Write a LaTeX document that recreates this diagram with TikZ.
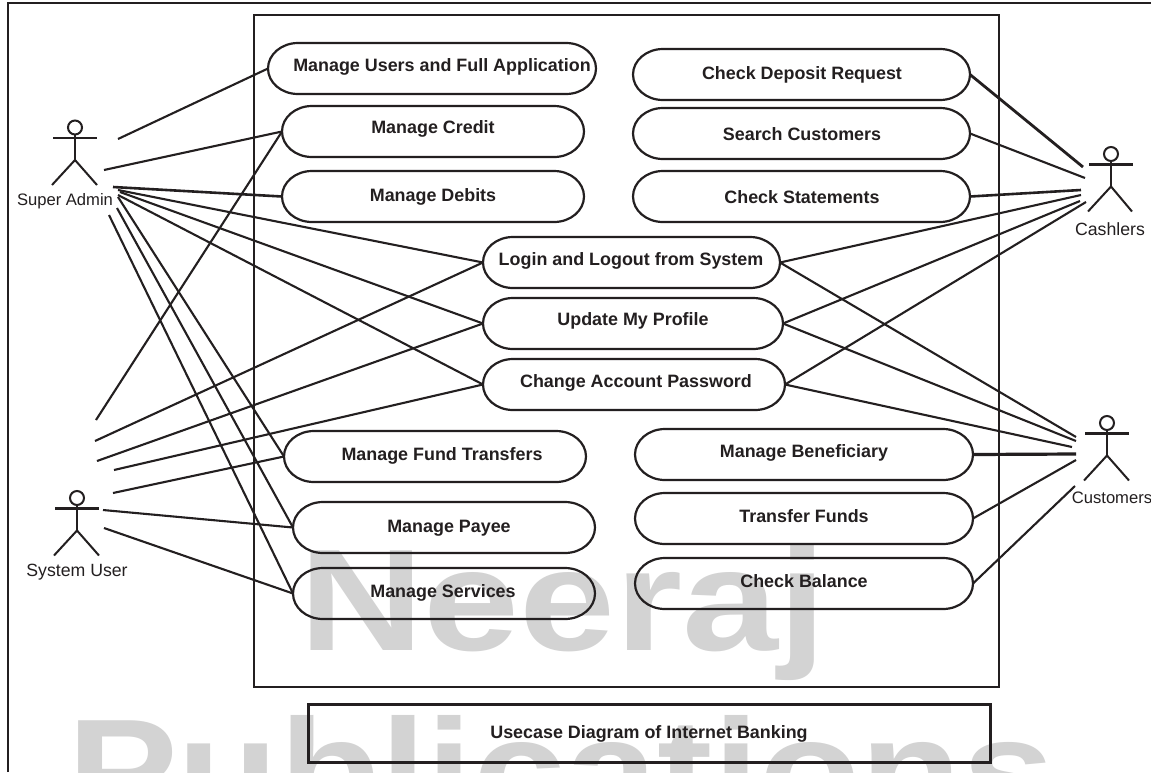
\documentclass[tikz,border=0pt]{standalone}
\usepackage{fontspec}
\setmainfont{Liberation Sans}
\definecolor{ink}{HTML}{231F20}
\definecolor{wm}{HTML}{D3D3D3}
\tikzset{
  link/.style={draw=ink,line width=2.1pt},
  ucline/.style={draw=ink,line width=2.2pt},
  ucbox/.style={rectangle,inner sep=0pt,outer sep=0pt},
  uctext/.style={inner sep=0pt,yshift=-1pt,text=ink,font=\fontsize{17.9pt}{19pt}\selectfont\bfseries},
  actortext/.style={inner sep=0pt,text=ink,font=\fontsize{16.6pt}{18pt}\selectfont},
  limb/.style={draw=ink,line width=2pt},
  arms/.style={draw=ink,line width=2.6pt},
  wmtext/.style={inner sep=0pt,anchor=base west,text=wm,font=\fontsize{145pt}{150pt}\selectfont\bfseries},
  frameline/.style={draw=ink,line width=2.6pt},
}
% name, left, top, right, bottom, text x, text y, text
\newcommand{\usecase}[8]{%
  \pgfmathsetlengthmacro{\ucw}{(#4-#2)*1pt}%
  \pgfmathsetlengthmacro{\uch}{(#5-#3)*1pt}%
  \node[ucbox,minimum width=\ucw,minimum height=\uch,anchor=north west] (#1) at (#2,#3) {};
  \draw[ucline] ([xshift=30pt]#1.north west) -- ([xshift=-30pt]#1.north east)
    arc[start angle=90,end angle=-90,x radius=30pt,y radius=\uch/2]
    -- ([xshift=30pt]#1.south west)
    arc[start angle=270,end angle=90,x radius=30pt,y radius=\uch/2] -- cycle;
  \node[uctext] (#1-label) at (#6,#7) {#8};
}
% name, head x, head y, left foot x, right foot x, label x, label y, label
\newcommand{\actor}[8]{%
  \node[circle,draw=ink,line width=2pt,minimum size=14pt,inner sep=0pt] (#1-head) at (#2,#3) {};
  \coordinate (#1-neck) at (#2,#3+7);
  \coordinate (#1-crotch) at (#2,#3+32.5);
  \coordinate (#1-armL) at (#2-22,#3+10.5);
  \coordinate (#1-armR) at (#2+22,#3+10.5);
  \coordinate (#1-footL) at (#4,#3+57.5);
  \coordinate (#1-footR) at (#5,#3+57.5);
  \draw[limb] (#1-neck) -- (#1-crotch);
  \draw[limb] (#1-footL) -- (#1-crotch) -- (#1-footR);
  \draw[arms] (#1-armL) -- (#1-armR);
  \node[actortext] (#1-label) at (#6,#7) {#8};
}
\begin{document}
\begin{tikzpicture}[x=1pt,y=-1pt]
\clip (0,0) rectangle (1151,772);
\fill[white] (0,0) rectangle (1151,772);
% watermark
\node[wmtext] (wmA) at (299,650) {\scalebox{1.19}[1]{Neeraj}};
\node[wmtext] (wmB) at (67,820) {\scalebox{1.145}[1]{Publications}};
% frames
\coordinate (outerBL) at (8,772);
\coordinate (outerTL) at (8,3);
\coordinate (outerTR) at (1151,3);
\draw[frameline] (outerBL) -- (outerTL) -- (outerTR);
\node[ucbox,draw=ink,line width=2.5pt,minimum width=745pt,minimum height=672pt,anchor=north west] (system) at (254,15) {};
\node[ucbox,draw=ink,line width=3pt,minimum width=682pt,minimum height=58pt,anchor=north west] (title) at (308,704) {};
\node[uctext] (title-label) at (649,733) {Usecase Diagram of Internet Banking};
% use cases
\usecase{users}{268}{43}{596}{94}{442}{66}{Manage Users and Full Application}
\usecase{credit}{282}{106}{584}{157}{433}{128}{Manage Credit}
\usecase{debits}{282}{171}{584}{222}{433}{196}{Manage Debits}
\usecase{deposit}{633}{49}{970}{100}{802}{74}{Check Deposit Request}
\usecase{search}{633}{108}{970}{159}{802}{133}{Search Customers}
\usecase{statements}{633}{171}{970}{222}{802}{196}{Check Statements}
\usecase{login}{483}{237}{780}{288}{631}{260}{Login and Logout from System}
\usecase{update}{483}{298}{783}{349}{633}{320}{Update My Profile}
\usecase{change}{483}{359}{785}{410}{636}{382}{Change Account Password}
\usecase{fund}{284}{431}{586}{482}{442}{455}{Manage Fund Transfers}
\usecase{payee}{293}{502}{595}{553}{449}{527}{Manage Payee}
\usecase{services}{293}{568}{595}{619}{443}{592}{Manage Services}
\usecase{benef}{635}{429}{973}{480}{804}{452}{Manage Beneficiary}
\usecase{transfer}{635}{493}{973}{544}{804}{515}{Transfer Funds}
\usecase{balance}{635}{558}{973}{609}{804}{580}{Check Balance}
% actors
\actor{admin}{75}{127.5}{52}{97}{65}{201}{Super Admin}
\actor{sysuser}{77}{498}{54}{99}{77}{572}{\fontsize{17.7pt}{19pt}\selectfont System User}
\actor{cash}{1111}{154}{1088}{1132}{1110}{229}{\fontsize{17.7pt}{19pt}\selectfont Cashlers}
\actor{cust}{1107}{423}{1084}{1129}{1112}{498}{Customers}
% free ends: Super Admin
\coordinate (a1) at (118,139);
\coordinate (a2) at (104,170);
\coordinate (a3) at (113,187);
\coordinate (a4) at (118,190);
\coordinate (a5) at (120,192);
\coordinate (a6) at (118,195);
\coordinate (a7) at (118,197);
\coordinate (a8) at (117,208);
\coordinate (a9) at (109,215);
\draw[link] (a1) -- (users.west);
\draw[link] (a2) -- (credit.west);
\draw[link,line width=2.6pt] (a3) -- (debits.west);
\draw[link] (a4) -- (login.west);
\draw[link] (a5) -- (update.west);
\draw[link] (a6) -- (change.west);
\draw[link] (a7) -- (fund.west);
\draw[link] (a8) -- (payee.west);
\draw[link] (a9) -- (services.west);
% free ends: System User
\coordinate (s1) at (96,420);
\coordinate (s2) at (95,441);
\coordinate (s3) at (97,461);
\coordinate (s4) at (114,470);
\coordinate (s5) at (113,493);
\coordinate (s6) at (103,510);
\coordinate (s7) at (104,528);
\draw[link] (s1) -- (credit.west);
\draw[link] (s2) -- (login.west);
\draw[link] (s3) -- (update.west);
\draw[link] (s4) -- (change.west);
\draw[link] (s5) -- (fund.west);
\draw[link] (s6) -- (payee.west);
\draw[link] (s7) -- (services.west);
% free ends: Cashlers
\coordinate (c1) at (1083,167);
\coordinate (c2) at (1085,178);
\coordinate (c3) at (1081,190);
\coordinate (c4) at (1081,195);
\coordinate (c5) at (1080,201);
\coordinate (c6) at (1086,202);
\draw[link,line width=2.8pt] (deposit.east) -- (c1);
\draw[link] (search.east) -- (c2);
\draw[link,line width=2.6pt] (statements.east) -- (c3);
\draw[link] (login.east) -- (c4);
\draw[link] (update.east) -- (c5);
\draw[link] (change.east) -- (c6);
% free ends: Customers
\coordinate (k1) at (1076,437);
\coordinate (k2) at (1076,441);
\coordinate (k3) at (1072,447);
\coordinate (k4) at (1076,454);
\coordinate (k5) at (1076,460);
\coordinate (k6) at (1075,486);
\draw[link] (login.east) -- (k1);
\draw[link] (update.east) -- (k2);
\draw[link] (change.east) -- (k3);
\draw[link,line width=3.2pt] (benef.east) -- (k4);
\draw[link] (transfer.east) -- (k5);
\draw[link] (balance.east) -- (k6);
\end{tikzpicture}
\end{document}
